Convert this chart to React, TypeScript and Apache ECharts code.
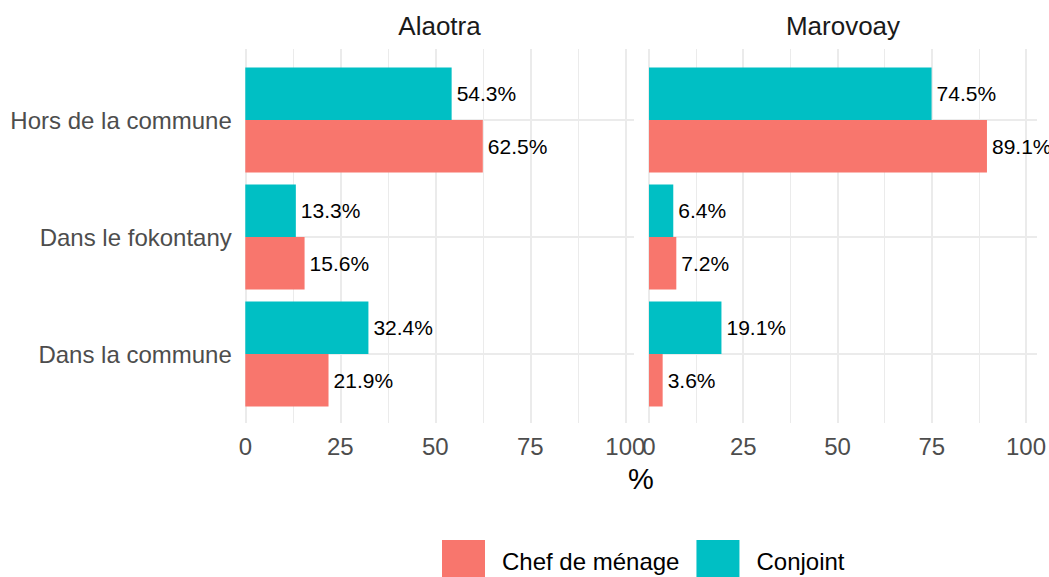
import React, { useEffect, useRef } from "react";
import * as echarts from "echarts";

const categories = ["Hors de la commune", "Dans le fokontany", "Dans la commune"];
const panelNames = ["Alaotra", "Marovoay"];
const seriesNames = ["Chef de ménage", "Conjoint"];
const chefAlaotra = [62.5, 15.6, 21.9];
const conjointAlaotra = [54.3, 13.3, 32.4];
const chefMarovoay = [89.1, 7.2, 3.6];
const conjointMarovoay = [74.5, 6.4, 19.1];
const xTickInterval = 25;
const xMax = 100;
const axisTitle = "%";

const COLORS = ["#F8766D", "#00BFC4"];
const FONT = "'Liberation Sans', Arial, Helvetica, sans-serif";
const GRID_COLOR = "#EBEBEB";

export default function App() {
  const ref = useRef<HTMLDivElement>(null);

  useEffect(() => {
    if (!ref.current) return;
    const chart = echarts.init(ref.current, null, { renderer: "svg" });

    const panels = [
      { left: 245.3, unit: 3.8, chef: chefAlaotra, conj: conjointAlaotra, showY: true },
      { left: 649, unit: 3.793, chef: chefMarovoay, conj: conjointMarovoay, showY: false },
    ];
    const extMax = 102.3;

    const grids: any[] = [];
    const xAxes: any[] = [];
    const yAxes: any[] = [];
    const series: any[] = [];

    panels.forEach((p) => {
      const bg = grids.length;
      // background grid (vertical grid lines + x labels)
      grids.push({ left: p.left, top: 49, width: p.unit * xMax, height: 374 });
      xAxes.push({
        gridIndex: bg,
        type: "value",
        min: 0,
        max: xMax,
        interval: xTickInterval,
        axisLine: { show: false },
        axisTick: { show: false },
        minorTick: { show: false, splitNumber: 2 },
        splitLine: { show: true, lineStyle: { color: GRID_COLOR, width: 2 } },
        minorSplitLine: { show: true, lineStyle: { color: GRID_COLOR, width: 1 } },
        axisLabel: { fontSize: 24, color: "#4D4D4D", fontFamily: FONT, margin: 11 },
      });
      yAxes.push({ gridIndex: bg, type: "value", min: 0, max: 1, show: false });

      // bar grid
      const bi = grids.length;
      grids.push({ left: p.left, top: 120, width: p.unit * extMax, height: 234 });
      xAxes.push({
        gridIndex: bi,
        type: "value",
        min: 0,
        max: extMax,
        axisLine: { show: false },
        axisTick: { show: false },
        axisLabel: { show: false },
        splitLine: { show: false },
      });
      yAxes.push({
        gridIndex: bi,
        type: "category",
        data: categories,
        inverse: true,
        boundaryGap: false,
        axisLine: { show: false },
        axisTick: { show: false },
        splitLine: { show: true, interval: 0, lineStyle: { color: GRID_COLOR, width: 2 } },
        axisLabel: {
          show: p.showY,
          interval: 0,
          fontSize: 24,
          color: "#4D4D4D",
          fontFamily: FONT,
          margin: 13.5,
        },
      });

      const mk = (name: string, data: number[], color: string) => ({
        type: "bar",
        name,
        xAxisIndex: bi,
        yAxisIndex: bi,
        data,
        barWidth: 52.5,
        barGap: "0%",
        clip: false,
        itemStyle: { color },
        label: {
          show: true,
          position: "right",
          distance: 5,
          fontSize: 21,
          color: "#000000",
          fontFamily: FONT,
          formatter: (d: any) => `${Number(d.value).toFixed(1)}%`,
        },
      });
      series.push(mk(seriesNames[1], p.conj, COLORS[1]));
      series.push(mk(seriesNames[0], p.chef, COLORS[0]));
    });

    const option: any = {
      animation: false,
      backgroundColor: "#FFFFFF",
      textStyle: { fontFamily: FONT },
      grid: grids,
      xAxis: xAxes,
      yAxis: yAxes,
      series,
      legend: {
        data: seriesNames,
        left: 442,
        top: 540,
        padding: 0,
        icon: "rect",
        itemWidth: 43,
        itemHeight: 43,
        itemGap: 17,
        selectedMode: false,
        textStyle: { fontSize: 24, color: "#000000", fontFamily: FONT, padding: [0, 0, 0, 12] },
      },
      graphic: [
        {
          type: "text",
          x: 439.5,
          y: 26,
          style: { text: panelNames[0], align: "center", verticalAlign: "middle", fontSize: 26, fill: "#1A1A1A", fontFamily: FONT },
        },
        {
          type: "text",
          x: 843,
          y: 26,
          style: { text: panelNames[1], align: "center", verticalAlign: "middle", fontSize: 26, fill: "#1A1A1A", fontFamily: FONT },
        },
        {
          type: "text",
          x: 641,
          y: 479,
          style: { text: axisTitle, align: "center", verticalAlign: "middle", fontSize: 29, fill: "#000000", fontFamily: FONT },
        },
      ],
    };
    chart.setOption(option);
    return () => chart.dispose();
  }, []);

  return (
    <div
      ref={ref}
      style={{ position: "fixed", left: 0, top: 0, width: 1049, height: 577, background: "#fff" }}
    />
  );
}
